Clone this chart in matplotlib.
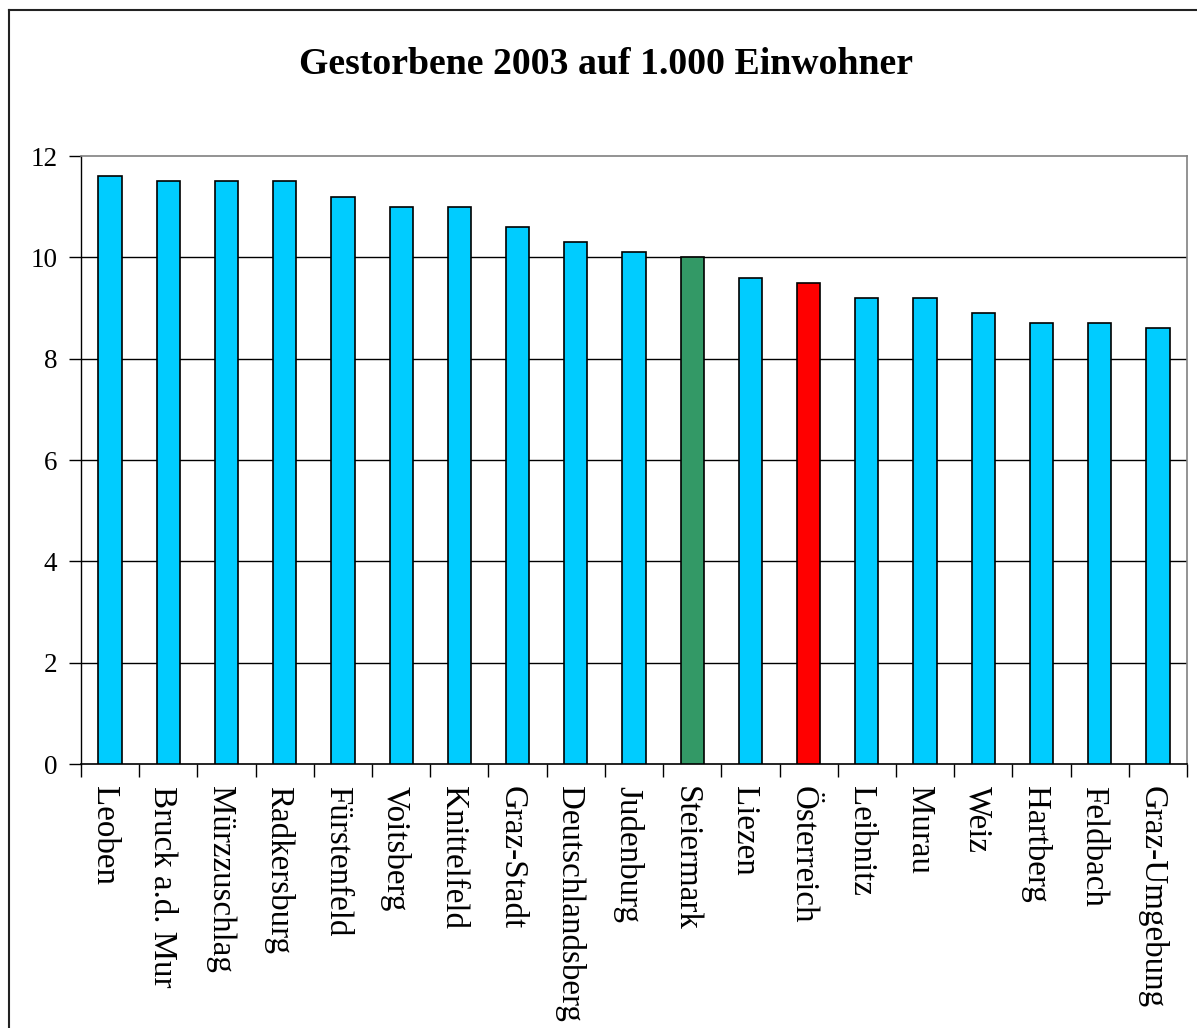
import matplotlib
matplotlib.use("Agg")
import matplotlib.pyplot as plt
from matplotlib.lines import Line2D
from matplotlib.transforms import ScaledTranslation
import numpy as np

categories = ["Leoben", "Bruck a.d. Mur", "Mürzzuschlag", "Radkersburg", "Fürstenfeld",
              "Voitsberg", "Knittelfeld", "Graz-Stadt", "Deutschlandsberg", "Judenburg",
              "Steiermark", "Liezen", "Österreich", "Leibnitz", "Murau", "Weiz",
              "Hartberg", "Feldbach", "Graz-Umgebung"]
values = [11.6, 11.5, 11.5, 11.5, 11.2, 11.0, 11.0, 10.6, 10.3, 10.1,
          10.0, 9.6, 9.5, 9.2, 9.2, 8.9, 8.7, 8.7, 8.6]
highlight = {"Steiermark": "#339966", "Österreich": "#FF0000"}
base_color = "#00CCFF"
title = "Gestorbene 2003 auf 1.000 Einwohner"
yticks = [0, 2, 4, 6, 8, 10, 12]

plt.rcParams['font.family'] = ['Liberation Serif', 'DejaVu Serif']

W, H = 1197, 1028
fig = plt.figure(figsize=(W / 100, H / 100), dpi=100)
ax = fig.add_axes([81 / W, 1 - 764 / H, (1187 - 81) / W, (764 - 156) / H])

x = np.arange(len(categories))
colors = [highlight.get(c, base_color) for c in categories]
ax.bar(x, values, width=0.4, color=colors, edgecolor="black", linewidth=1.2, zorder=3)

ax.set_xlim(-0.5, len(categories) - 0.5)
ax.set_ylim(0, 12)
ax.set_yticks(yticks)
ax.set_yticklabels([str(t) for t in yticks], fontsize=19.5)
for t in yticks[1:-1]:
    ax.axhline(t, color="black", linewidth=1, zorder=1)

ax.set_xticks(x)
ax.set_xticklabels(categories, rotation=270, fontsize=23.8, va="top", ha="center")
ax.set_xticks(np.arange(len(categories) + 1) - 0.5, minor=True)
ax.tick_params(axis="x", which="major", length=0, pad=16)
ax.tick_params(axis="x", which="minor", length=9, width=1, color="black")
ax.tick_params(axis="y", length=9, width=1, pad=8, color="black")

shift = ScaledTranslation(-6 / 100, 0, fig.dpi_scale_trans)
for lbl in ax.get_xticklabels():
    lbl.set_transform(lbl.get_transform() + shift)

for s in ["top", "right"]:
    ax.spines[s].set_color("#808080")
    ax.spines[s].set_linewidth(1.2)
ax.spines["left"].set_color("black")
ax.spines["bottom"].set_color("black")
ax.spines["left"].set_linewidth(1)
ax.spines["bottom"].set_linewidth(1.2)

fig.text(606 / W, 1 - 65 / H, title, ha="center", va="center",
         fontsize=27.2, fontweight="bold")

# figure border
fig.add_artist(Line2D([8.5 / W, 8.5 / W], [0, 1 - 10 / H], color="#222222", linewidth=1.5,
                      transform=fig.transFigure))
fig.add_artist(Line2D([8.5 / W, 1], [1 - 10 / H, 1 - 10 / H], color="#222222", linewidth=1.5,
                      transform=fig.transFigure))

fig.savefig("out.png", dpi=100)
